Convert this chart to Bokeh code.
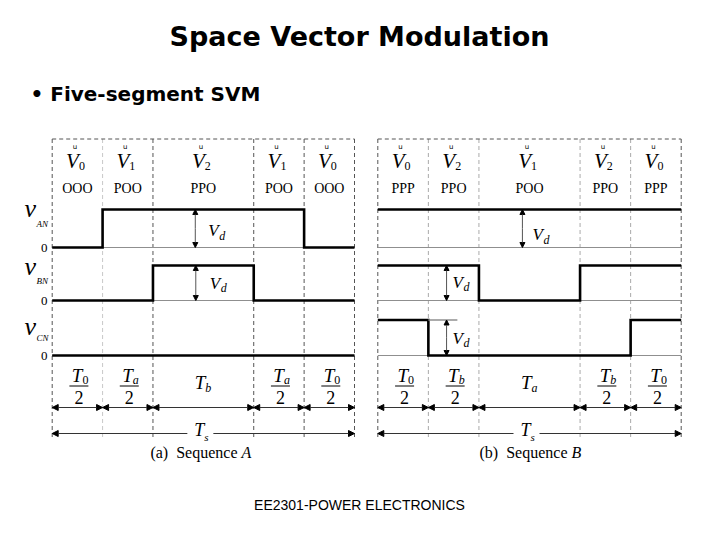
import numpy as np
from bokeh.plotting import figure
from bokeh.models import Range1d, Arrow, NormalHead, ColumnDataSource
from bokeh.core.properties import value
from bokeh.embed import file_html
from bokeh.resources import INLINE

# ---------------- data ----------------
title = "Space Vector Modulation"
subtitle = "\u2022 Five-segment SVM"
footer = "EE2301-POWER ELECTRONICS"

# segment durations in units of T0/2 (schematic: T0/2 = Ta/2 = Tb/2)
durations = [1, 1, 2, 1, 1]

# Sequence A
vec_A = ["0", "1", "2", "1", "0"]
code_A = ["OOO", "POO", "PPO", "POO", "OOO"]
vAN_A = [0, 1, 1, 1, 0]
vBN_A = [0, 0, 1, 0, 0]
vCN_A = [0, 0, 0, 0, 0]
tsub_A = ["0", "a", "b", "a", "0"]
half_A = [True, True, False, True, True]
caption_A = ("(a)\u00a0\u00a0Sequence", "A")

# Sequence B
vec_B = ["0", "2", "1", "2", "0"]
code_B = ["PPP", "PPO", "POO", "PPO", "PPP"]
vAN_B = [1, 1, 1, 1, 1]
vBN_B = [1, 1, 0, 1, 1]
vCN_B = [1, 0, 0, 0, 1]
tsub_B = ["0", "b", "a", "b", "0"]
half_B = [True, True, False, True, True]
caption_B = ("(b)\u00a0\u00a0Sequence", "B")

phase_names = ["AN", "BN", "CN"]

# ---------------- layout (pixel space) ----------------
W, H = 704, 524
p = figure(width=W, height=H, x_range=Range1d(0, W), y_range=Range1d(H, 0),
           output_backend="svg", toolbar_location=None, min_border=0)
p.axis.visible = False
p.grid.visible = False
p.outline_line_color = None
p.background_fill_color = "white"

SERIF = "Liberation Serif"
TOP, BOT = 138.5, 437.0
ROWS = {"AN": (209.0, 247.0), "BN": (265.0, 300.0), "CN": (319.5, 355.0)}


def txt(xs, ys, texts, size, font=SERIF, style="normal", align="center",
        baseline="alphabetic", color="black"):
    """ys are alphabetic baselines (or centres if baseline='middle');
    everything is drawn with a 'middle' baseline for predictable placement."""
    ys = list(ys)
    if baseline == "alphabetic":
        ys = [y - 0.33 * size for y in ys]
    src = ColumnDataSource(dict(x=list(xs), y=ys, t=list(texts)))
    p.text(x="x", y="y", text="t", source=src, text_font=value(font),
           text_font_size=f"{size}px", text_font_style=style, text_align=align,
           text_baseline="middle", text_color=color)


def head(size=5):
    return NormalHead(size=size, fill_color="black", line_color="black", line_width=1)


def panel(x0, x1, vec, codes, states, tsub, half, caption, cap_split, vd,
          dash_colors, ref_line=None):
    edges = np.concatenate([[0.0], np.cumsum(durations)])
    k = (x1 - x0) / edges[-1]
    bx = x0 + k * edges
    cx = (bx[:-1] + bx[1:]) / 2
    n = len(bx)

    # dashed frame
    p.segment(x0=list(bx), y0=[TOP] * n, x1=list(bx), y1=[BOT] * n,
              line_color=dash_colors, line_dash="4 3", line_width=1)
    p.segment(x0=[x0], y0=[TOP], x1=[x1], y1=[TOP], line_color="#555555",
              line_dash="4 3", line_width=1)

    # waveforms
    for name, st in zip(phase_names, states):
        hi, lo = ROWS[name]
        p.segment(x0=[x0], y0=[lo], x1=[x1], y1=[lo], line_color="#8f8f8f", line_width=1)
        ys = [hi if s else lo for s in st]
        ys.append(ys[-1])
        p.step(x=list(bx), y=ys, mode="after", line_width=2.6, line_color="black",
               line_join="miter")

    if ref_line is not None:
        seg_i, length, name = ref_line
        hi, lo = ROWS[name]
        p.segment(x0=[bx[seg_i]], y0=[hi], x1=[bx[seg_i] + length], y1=[hi],
                  line_color="#8f8f8f", line_width=1.5)

    # top labels: vector + switching state
    txt(cx - 2.5, [146.0] * 5, ["u"] * 5, 7, font="DejaVu Sans", baseline="middle")
    txt(cx + 1.5, [167.5] * 5, ["V"] * 5, 21, style="italic", align="right")
    txt(cx + 1.5, [169.5] * 5, vec, 12, align="left")
    txt(cx, [193.0] * 5, codes, 14)

    # Vd arrows
    for name, t, dx, dy in vd:
        hi, lo = ROWS[name]
        x = x0 + k * t
        mid = (hi + lo) / 2
        p.add_layout(Arrow(x_start=x, y_start=mid, x_end=x, y_end=hi,
                           end=head(5), line_color="#555555", line_width=1))
        p.add_layout(Arrow(x_start=x, y_start=mid, x_end=x, y_end=lo,
                           end=head(5), line_color="#555555", line_width=1))
        txt([x + dx], [mid + dy], ["V"], 17, style="italic", align="left")
        txt([x + dx + 11], [mid + dy + 3], ["d"], 12, style="italic", align="left")

    # time labels
    for c, s, h in zip(cx, tsub, half):
        sub_style = "normal" if s.isdigit() else "italic"
        if h:
            txt([c + 5], [381.0], ["T"], 19, style="italic", align="right")
            txt([c + 5], [383.0], [s], 12, style=sub_style, align="left")
            p.segment(x0=[c - 8], y0=[385.5], x1=[c + 11], y1=[385.5],
                      line_color="black", line_width=1)
            txt([c + 1.5], [403.0], ["2"], 18)
        else:
            txt([c + 2], [388.0], ["T"], 19, style="italic", align="right")
            txt([c + 2], [391.0], [s], 12, style=sub_style, align="left")

    # segment arrows
    src = ColumnDataSource(dict(xs=list(bx[:-1]), xe=list(bx[1:]), y=[407.0] * (n - 1)))
    p.add_layout(Arrow(x_start="xs", y_start="y", x_end="xe", y_end="y", source=src,
                       start=head(6), end=head(6), line_color="#333333", line_width=1))

    # Ts arrow
    mid = (x0 + x1) / 2 - 3
    src2 = ColumnDataSource(dict(xs=[mid - 13, mid + 13], xe=[x0, x1], y=[433.0, 433.0]))
    p.add_layout(Arrow(x_start="xs", y_start="y", x_end="xe", y_end="y", source=src2,
                       end=head(6), line_color="#333333", line_width=1))
    txt([mid + 4], [435.0], ["T"], 18, style="italic", align="right")
    txt([mid + 4], [440.0], ["s"], 11, style="italic", align="left")

    # caption
    txt([cap_split], [457.0], [caption[0]], 16, align="right")
    txt([cap_split + 4], [457.0], [caption[1]], 16, style="italic", align="left")


# Panel A
panel(51.7, 354.0, vec_A, code_A, [vAN_A, vBN_A, vCN_A], tsub_A, half_A,
      caption_A, 237.0,
      vd=[("AN", 2.84, 13, 8), ("BN", 2.85, 14, 6)],
      dash_colors=["#555555", "#c8c8c8", "#555555", "#555555", "#555555", "#555555"])

# Panel B
panel(377.3, 680.7, vec_B, code_B, [vAN_B, vBN_B, vCN_B], tsub_B, half_B,
      caption_B, 567.0,
      vd=[("AN", 2.86, 10, 12), ("BN", 1.36, 6, 5), ("CN", 1.36, 6, 6)],
      dash_colors=["#555555", "#aaaaaa", "#aaaaaa", "#aaaaaa", "#aaaaaa", "#555555"],
      ref_line=(1, 29, "CN"))

# left-hand phase labels
lab_x = 24
txt([lab_x] * 3, [217.0, 275.0, 335.0], ["v"] * 3, 26, style="italic", align="left")
txt([lab_x + 12] * 3, [226.0, 283.0, 340.0], phase_names, 9, style="italic", align="left")
txt([47] * 3, [ROWS[n][1] + 4.5 for n in phase_names], ["0"] * 3, 13, align="right")

# title, subtitle, footer
txt([359], [45.0], [title], 27, font="DejaVu Sans", style="bold")
txt([30], [100.0], [subtitle], 20, font="DejaVu Sans", style="bold", align="left")
txt([359], [509.0], [footer], 14, font="Liberation Sans")

open("out.html", "w").write(file_html(p, INLINE))
